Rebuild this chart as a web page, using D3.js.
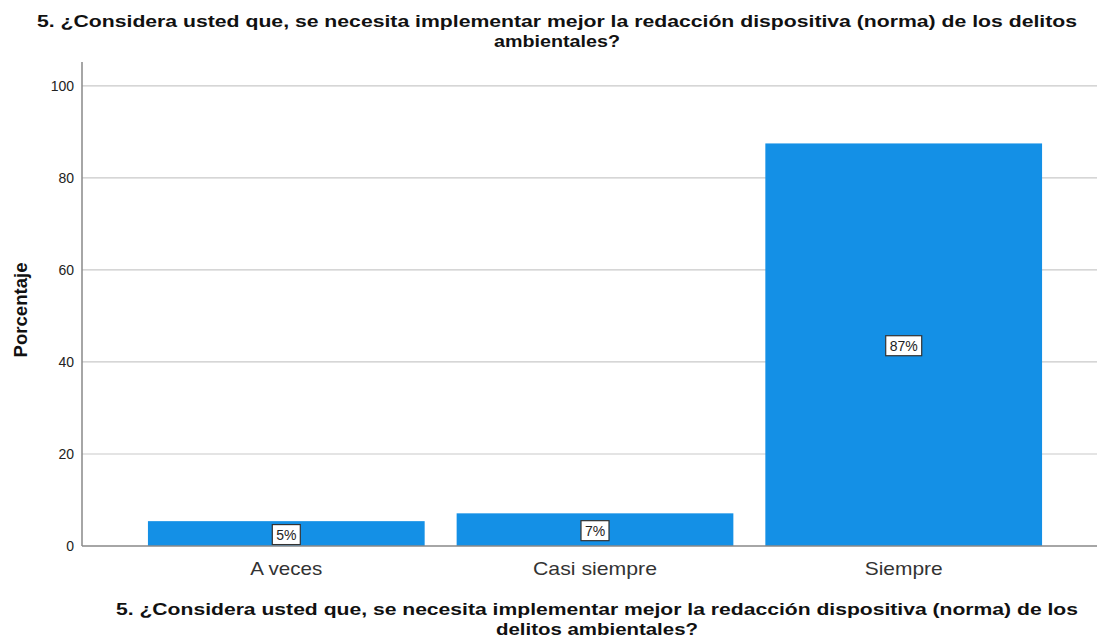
<!DOCTYPE html>
<html>
<head>
<meta charset="utf-8">
<script src="https://cdn.jsdelivr.net/npm/d3@7"></script>
<style>
  body { margin: 0; background: #fff; }
  text { font-family: Arial, "Liberation Sans", sans-serif; }
</style>
</head>
<body>
<script>
const categories = ['A veces', 'Casi siempre', 'Siempre'];
const values = [5.4, 7.1, 87.5];
const labels = ['5%', '7%', '87%'];
const yTicks = [0, 20, 40, 60, 80, 100];
const titleLines = ['5. ¿Considera usted que, se necesita implementar mejor la redacción dispositiva (norma) de los delitos', 'ambientales?'];
const xTitleLines = ['5. ¿Considera usted que, se necesita implementar mejor la redacción dispositiva (norma) de los', 'delitos ambientales?'];

const width = 1097, height = 640;
const plotLeft = 82, plotBottom = 546, plotTop = 62;

const svg = d3.select('body')
    .append('svg')
    .attr('width', width)
    .attr('height', height);

const xScale = d3.scaleBand()
    .domain(categories)
    .range([plotLeft, 1108])
    .paddingInner(0.1036)
    .paddingOuter(0.2136);

const yScale = d3.scaleLinear()
    .domain([0, 105.2])
    .range([plotBottom, plotTop]);

// gridlines
svg.append('g')
    .selectAll('line')
    .data(yTicks.filter(d => d > 0))
    .enter()
    .append('line')
    .attr('x1', plotLeft)
    .attr('x2', width)
    .attr('y1', d => yScale(d))
    .attr('y2', d => yScale(d))
    .attr('stroke', '#c9c9c9')
    .attr('stroke-width', 1.2);

// bars
svg.append('g')
    .selectAll('rect')
    .data(values)
    .enter()
    .append('rect')
    .attr('x', (d, i) => xScale(categories[i]))
    .attr('y', d => yScale(d))
    .attr('width', xScale.bandwidth())
    .attr('height', d => plotBottom - yScale(d))
    .attr('fill', '#1490e6');

// value labels
const lab = svg.append('g')
    .selectAll('g')
    .data(values)
    .enter()
    .append('g')
    .attr('transform', (d, i) => 'translate(' + (xScale(categories[i]) + xScale.bandwidth() / 2) + ',' + ((yScale(d) + plotBottom) / 2 + 1) + ')');

lab.append('rect')
    .attr('x', (d, i) => labels[i].length === 3 ? -18 : -14)
    .attr('y', -10)
    .attr('width', (d, i) => labels[i].length === 3 ? 36 : 28)
    .attr('height', 20)
    .attr('fill', '#fff')
    .attr('stroke', '#333')
    .attr('stroke-width', 1.2);

lab.append('text')
    .attr('text-anchor', 'middle')
    .attr('dy', '0.36em')
    .attr('font-size', 14)
    .attr('fill', '#222')
    .text((d, i) => labels[i]);

// y axis
const yAxis = d3.axisLeft(yScale).tickValues(yTicks).tickSize(0).tickPadding(8);
const yg = svg.append('g')
    .attr('transform', 'translate(' + plotLeft + ',0)')
    .call(yAxis);
yg.select('.domain').remove();
yg.selectAll('text').attr('font-size', 14).attr('fill', '#222').style('font-family', 'Arial, "Liberation Sans", sans-serif');

svg.append('line')
    .attr('x1', plotLeft).attr('x2', plotLeft)
    .attr('y1', plotTop).attr('y2', plotBottom)
    .attr('stroke', '#888').attr('stroke-width', 1.5);

// x axis
const catWidths = [72, 124, 78];
const xAxis = d3.axisBottom(xScale).tickSize(0).tickPadding(16);
const xg = svg.append('g')
    .attr('transform', 'translate(0,' + plotBottom + ')')
    .call(xAxis);
xg.select('.domain').remove();
xg.selectAll('text')
    .attr('font-size', 19)
    .attr('fill', '#333')
    .attr('textLength', (d, i) => catWidths[i])
    .attr('lengthAdjust', 'spacingAndGlyphs')
    .style('font-family', 'Arial, "Liberation Sans", sans-serif');

svg.append('line')
    .attr('x1', plotLeft).attr('x2', width)
    .attr('y1', plotBottom).attr('y2', plotBottom)
    .attr('stroke', '#888').attr('stroke-width', 1.5);

// y axis title
svg.append('text')
    .attr('transform', 'translate(27,310) rotate(-90)')
    .attr('text-anchor', 'middle')
    .attr('font-size', 19)
    .attr('font-weight', 'bold')
    .attr('fill', '#111')
    .attr('textLength', 95).attr('lengthAdjust', 'spacingAndGlyphs')
    .text('Porcentaje');

// chart title
svg.append('text')
    .attr('x', 557).attr('y', 27)
    .attr('text-anchor', 'middle')
    .attr('font-size', 17).attr('font-weight', 'bold').attr('fill', '#111')
    .attr('textLength', 1040).attr('lengthAdjust', 'spacingAndGlyphs')
    .text(titleLines[0]);
svg.append('text')
    .attr('x', 557).attr('y', 47)
    .attr('text-anchor', 'middle')
    .attr('font-size', 17).attr('font-weight', 'bold').attr('fill', '#111')
    .attr('textLength', 126).attr('lengthAdjust', 'spacingAndGlyphs')
    .text(titleLines[1]);

// x axis title
svg.append('text')
    .attr('x', 597).attr('y', 615)
    .attr('text-anchor', 'middle')
    .attr('font-size', 17).attr('font-weight', 'bold').attr('fill', '#111')
    .attr('textLength', 962).attr('lengthAdjust', 'spacingAndGlyphs')
    .text(xTitleLines[0]);
svg.append('text')
    .attr('x', 597).attr('y', 635)
    .attr('text-anchor', 'middle')
    .attr('font-size', 17).attr('font-weight', 'bold').attr('fill', '#111')
    .attr('textLength', 202).attr('lengthAdjust', 'spacingAndGlyphs')
    .text(xTitleLines[1]);
</script>
</body>
</html>
